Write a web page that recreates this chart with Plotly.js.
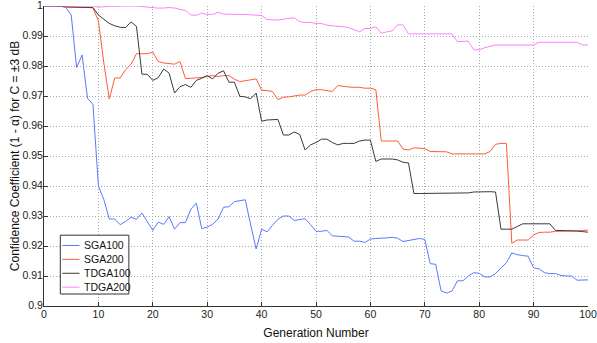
<!DOCTYPE html>
<html>
<head>
<meta charset="utf-8">
<script src="https://cdn.plot.ly/plotly-3.0.1.min.js"></script>
<style>
  html, body { margin: 0; padding: 0; background: #fff; }
  #chart { width: 597px; height: 343px; }
</style>
</head>
<body>
<div id="chart"></div>
<script>
// Generation index (x axis)
const generations = [
  0, 1, 2, 3, 4, 5, 6, 7, 8, 9, 10, 11, 12, 13, 14, 15, 16, 17, 18, 19,
  20, 21, 22, 23, 24, 25, 26, 27, 28, 29, 30, 31, 32, 33, 34, 35, 36, 37, 38, 39,
  40, 41, 42, 43, 44, 45, 46, 47, 48, 49, 50, 51, 52, 53, 54, 55, 56, 57, 58, 59,
  60, 61, 62, 63, 64, 65, 66, 67, 68, 69, 70, 71, 72, 73, 74, 75, 76, 77, 78, 79,
  80, 81, 82, 83, 84, 85, 86, 87, 88, 89, 90, 91, 92, 93, 94, 95, 96, 97, 98, 99, 100
];

const seriesNames = ["SGA100", "SGA200", "TDGA100", "TDGA200"];

const sga100 = [
  1, 1, 1, 1, 0.9995, 0.997, 0.9795, 0.9837, 0.9692, 0.9672,
  0.940, 0.9355, 0.929, 0.929, 0.9271, 0.9282, 0.9296, 0.9289, 0.931, 0.9283,
  0.9252, 0.928, 0.9272, 0.9298, 0.9256, 0.9278, 0.9278, 0.9323, 0.9343, 0.9258,
  0.9263, 0.9272, 0.929, 0.9329, 0.9331, 0.9348, 0.9351, 0.9354, 0.927, 0.919,
  0.9256, 0.9247, 0.9269, 0.9289, 0.930, 0.930, 0.9285, 0.9287, 0.9291, 0.9271,
  0.9249, 0.9249, 0.9252, 0.9234, 0.9233, 0.9233, 0.923, 0.9216, 0.9216, 0.9212,
  0.9223, 0.9225, 0.9225, 0.9227, 0.9229, 0.9226, 0.9215, 0.9218, 0.9222, 0.9225,
  0.9222, 0.9141, 0.9139, 0.905, 0.9043, 0.905, 0.9084, 0.9084, 0.910, 0.9111,
  0.9109, 0.9097, 0.9097, 0.9108, 0.9127, 0.9144, 0.9177, 0.9171, 0.9168, 0.9166,
  0.9127, 0.9124, 0.9111, 0.9108, 0.9108, 0.9102, 0.910, 0.910, 0.9086, 0.9086,
  0.9087
];

const sga200 = [
  1, 1, 1, 1, 0.9996, 0.9995, 0.9995, 0.9995, 0.9995, 0.9994,
  0.995, 0.981, 0.969, 0.976, 0.976, 0.9788, 0.9806, 0.9841, 0.9841, 0.9841,
  0.9846, 0.9815, 0.981, 0.9808, 0.9806, 0.9815, 0.9758, 0.9759, 0.976, 0.9762,
  0.9765, 0.9768, 0.9765, 0.9768, 0.9768, 0.9756, 0.9748, 0.9752, 0.9754, 0.9757,
  0.9719, 0.9718, 0.9715, 0.9688, 0.9696, 0.9697, 0.9701, 0.9703, 0.9703, 0.9715,
  0.9721, 0.9721, 0.9718, 0.9715, 0.9735, 0.9732, 0.973, 0.9729, 0.9729, 0.9726,
  0.9726, 0.9721, 0.955, 0.955, 0.955, 0.955, 0.9523, 0.952, 0.9527, 0.9527,
  0.9525, 0.9515, 0.9515, 0.9515, 0.9514, 0.9507, 0.9507, 0.9507, 0.9507, 0.9507,
  0.9507, 0.9507, 0.9515, 0.9539, 0.9542, 0.9542, 0.9209, 0.922, 0.922, 0.922,
  0.9237, 0.9245, 0.9246, 0.9246, 0.9249, 0.925, 0.925, 0.925, 0.925, 0.9252,
  0.9253
];

const tdga100 = [
  1, 1, 1, 1, 0.9998, 0.9997, 0.9997, 0.9996, 0.9996, 0.9995,
  0.997, 0.9957, 0.9942, 0.9934, 0.9929, 0.9928, 0.9947, 0.9932, 0.9773, 0.9772,
  0.9752, 0.9761, 0.979, 0.9776, 0.971, 0.9731, 0.9738, 0.9729, 0.9752, 0.9759,
  0.9768, 0.9757, 0.9776, 0.9784, 0.9746, 0.9746, 0.9699, 0.9697, 0.9691, 0.971,
  0.9616, 0.962, 0.9622, 0.9622, 0.957, 0.957, 0.958, 0.9572, 0.952, 0.9537,
  0.9545, 0.9556, 0.9556, 0.9545, 0.9537, 0.9542, 0.9542, 0.9542, 0.955, 0.9553,
  0.9553, 0.9482, 0.949, 0.949, 0.949, 0.9487, 0.9479, 0.9477, 0.9375, 0.9375,
  0.9375, 0.9375, 0.9375, 0.9375, 0.9375, 0.9375, 0.9377, 0.9377, 0.9377, 0.938,
  0.9381, 0.9381, 0.9381, 0.938, 0.9256, 0.9256, 0.9256, 0.9265, 0.9274, 0.9274,
  0.9274, 0.9275, 0.9276, 0.9274, 0.9252, 0.9252, 0.9252, 0.9251, 0.925, 0.9248,
  0.9246
];

const tdga200 = [
  1, 1, 1, 1, 1, 1, 1, 1, 1, 1,
  0.9996, 0.9998, 0.9999, 0.9999, 1, 1, 1, 1, 0.9998, 0.9997,
  0.9996, 0.9993, 0.9993, 0.9995, 0.9993, 0.9988, 0.9985, 0.997, 0.9969, 0.9976,
  0.9972, 0.9972, 0.9979, 0.9973, 0.9972, 0.9972, 0.9972, 0.9972, 0.997, 0.997,
  0.9968, 0.9955, 0.9953, 0.9953, 0.9956, 0.9959, 0.9961, 0.9948, 0.9945, 0.9945,
  0.9942, 0.9942, 0.9936, 0.9934, 0.9933, 0.9931, 0.9928, 0.992, 0.9914, 0.9925,
  0.9925, 0.9931, 0.9909, 0.9914, 0.9917, 0.9937, 0.9937, 0.9907, 0.9907, 0.9907,
  0.9907, 0.9907, 0.9907, 0.9907, 0.9907, 0.9907, 0.9881, 0.9883, 0.9883, 0.9854,
  0.9854, 0.9861, 0.9865, 0.987, 0.987, 0.987, 0.987, 0.987, 0.987, 0.987,
  0.987, 0.9879, 0.9879, 0.9879, 0.9879, 0.9879, 0.9879, 0.9879, 0.9879, 0.987,
  0.987
];

const seriesValues = [sga100, sga200, tdga100, tdga200];
const seriesColors = ["#5a7aff", "#ff5a3c", "#3a3a3a", "#ff80ff"];

const FONT = "Liberation Sans, Arial, Helvetica, sans-serif";

const traces = seriesNames.map((name, i) => ({
  type: "scatter",
  mode: "lines",
  name: name,
  x: generations,
  y: seriesValues[i],
  line: { color: seriesColors[i], width: 1 },
  showlegend: false
}));

// Boxed legend in the lower-left corner of the plot area
const legendBox = { x0: 0.030, x1: 0.156, y0: 0.040, y1: 0.236 };
const legendTop = 0.2017, legendStep = 0.0463;
const shapes = [{
  type: "rect", xref: "paper", yref: "paper",
  x0: legendBox.x0, x1: legendBox.x1, y0: legendBox.y0, y1: legendBox.y1,
  fillcolor: "#ffffff", line: { color: "#333333", width: 1 }, layer: "above"
}];
const annotations = [];
seriesNames.forEach((name, i) => {
  const yy = legendTop - i * legendStep;
  shapes.push({
    type: "line", xref: "paper", yref: "paper",
    x0: 0.0336, x1: 0.0653, y0: yy, y1: yy,
    line: { color: seriesColors[i], width: 1 }, layer: "above"
  });
  annotations.push({
    xref: "paper", yref: "paper", x: 0.0703, y: yy,
    xanchor: "left", yanchor: "middle", showarrow: false,
    text: name, font: { family: FONT, size: 10.5, color: "#111" }
  });
});

const gridDots = "1px,2px";

const layout = {
  width: 597, height: 343,
  margin: { l: 44, r: 9, t: 6, b: 37, pad: 0 },
  paper_bgcolor: "#ffffff",
  plot_bgcolor: "#ffffff",
  font: { family: FONT, size: 11, color: "#222" },
  xaxis: {
    range: [0, 100], dtick: 10, tick0: 0,
    showgrid: true, gridcolor: "#a8a8a8", griddash: gridDots, gridwidth: 1,
    zeroline: false, showline: true, linecolor: "#333", linewidth: 1,
    ticks: "inside", ticklen: 4, tickcolor: "#333",
    ticklabeloverflow: "allow", ticklabelstandoff: -2,
    tickfont: { family: FONT, size: 10.5, color: "#222" },
    title: { text: "Generation Number", font: { family: FONT, size: 12, color: "#111" }, standoff: 10 }
  },
  yaxis: {
    range: [0.9, 1], dtick: 0.01, tick0: 0.9,
    showgrid: true, gridcolor: "#a8a8a8", griddash: gridDots, gridwidth: 1,
    zeroline: false, showline: true, linecolor: "#333", linewidth: 1,
    ticks: "inside", ticklen: 4, tickcolor: "#333",
    ticklabeloverflow: "allow", ticklabelshift: -1, ticklabelstandoff: -2,
    tickfont: { family: FONT, size: 10.5, color: "#222" },
    title: { text: "Confidence Coefficient (1 - α) for C = ±3 dB", font: { family: FONT, size: 12, color: "#111" }, standoff: 0 }
  },
  shapes: shapes,
  annotations: annotations,
  showlegend: false
};

Plotly.newPlot("chart", traces, layout, { displayModeBar: false, staticPlot: true });
</script>
</body>
</html>
